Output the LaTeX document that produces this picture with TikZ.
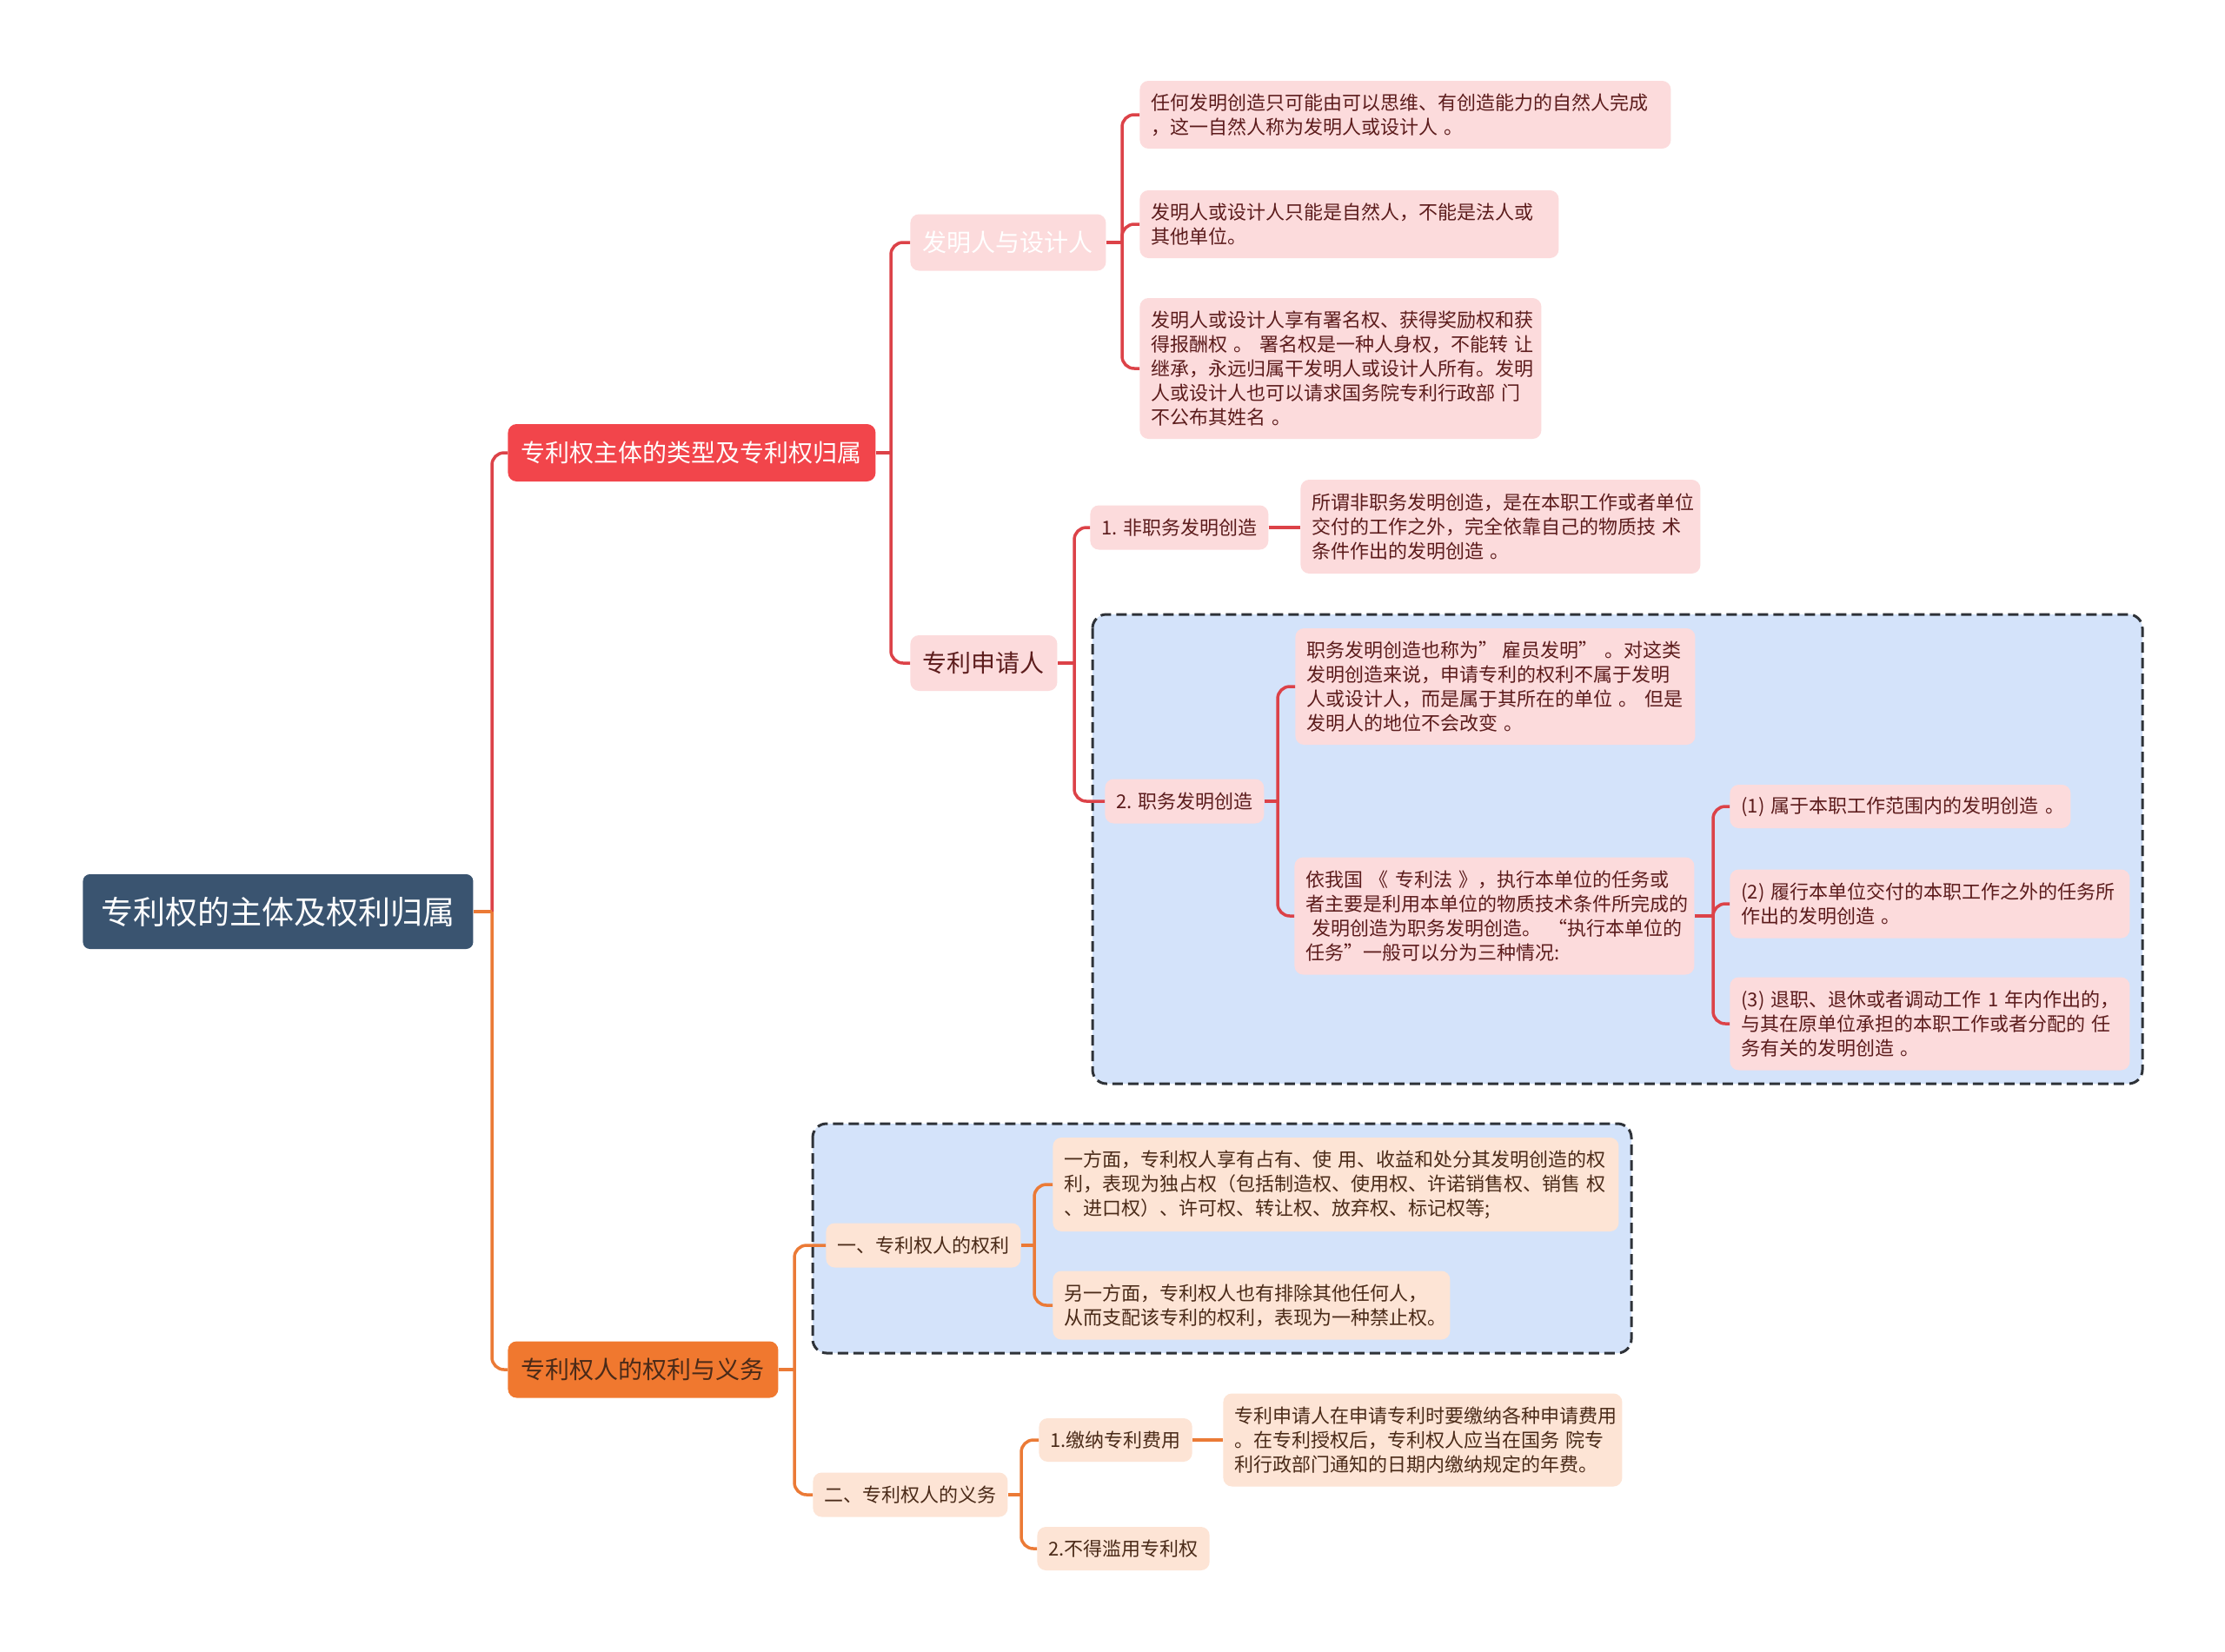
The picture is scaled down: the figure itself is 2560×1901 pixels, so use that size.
\documentclass[tikz,border=0pt]{standalone}
\usepackage{fontspec}
\setmainfont{Noto Sans CJK SC}
\usetikzlibrary{calc}
\definecolor{rootc}{HTML}{3A5470}
\definecolor{redc}{HTML}{F2454B}
\definecolor{orangec}{HTML}{F0782F}
\definecolor{rline}{HTML}{DC4248}
\definecolor{oline}{HTML}{EB7A36}
\definecolor{pinkc}{HTML}{FCDBDC}
\definecolor{peachc}{HTML}{FDE4D5}
\definecolor{maroon}{HTML}{5C1C1C}
\definecolor{brownt}{HTML}{4A2A18}
\definecolor{bluebg}{HTML}{D4E3FA}
\definecolor{dashc}{HTML}{2E3238}
\begin{document}
\begin{tikzpicture}[x=0.5pt,y=-0.5pt,
  base/.style={anchor=west, rounded corners=5pt, inner xsep=6.5pt, inner ysep=2pt},
  rootbox/.style={base, fill=rootc, text=white, font=\fontsize{18.5pt}{22pt}\selectfont, rounded corners=4pt},
  lvA/.style={base, fill=redc, text=white, font=\fontsize{14pt}{17pt}\selectfont},
  lvB/.style={base, fill=orangec, text=brownt, font=\fontsize{14pt}{17pt}\selectfont},
  lvtwo/.style={base, fill=pinkc, text=maroon, font=\fontsize{14pt}{17pt}\selectfont},
  smallr/.style={base, fill=pinkc, text=maroon, font=\fontsize{11pt}{14pt}\selectfont},
  smallo/.style={base, fill=peachc, text=brownt, font=\fontsize{11pt}{14pt}\selectfont},
  leafr/.style={base, fill=pinkc, text=maroon, align=left, font=\fontsize{11pt}{14.1pt}\selectfont},
  leafo/.style={base, fill=peachc, text=brownt, align=left, font=\fontsize{11pt}{14.1pt}\selectfont},
  rl/.style={draw=rline, line width=1.75pt, rounded corners=7pt},
  ol/.style={draw=oline, line width=1.75pt, rounded corners=7pt},
  dashbox/.style={fill=bluebg, draw=dashc, line width=1.5pt, dash pattern=on 6pt off 3pt, rounded corners=8pt}
]
\fill[white] (0,0) rectangle (2560,1901);
\useasboundingbox (0,0) rectangle (2560,1901);

% group backgrounds
\draw[dashbox] (1257,707) rectangle (2465,1247);
\draw[dashbox] (935,1293) rectangle (1877,1557);

% nodes
\node[rootbox, minimum width=224.5pt, minimum height=43pt] (root) at (95,1049) {专利权的主体及权利归属};
\node[lvA, minimum width=211.5pt, minimum height=33pt] (A) at (584,521) {专利权主体的类型及专利权归属};
\node[lvB, minimum width=155.5pt, minimum height=32.5pt] (B) at (584,1576) {专利权人的权利与义务};

\node[lvtwo, text=white, minimum width=112.5pt, minimum height=32.5pt] (A1) at (1047,279) {发明人与设计人};
\node[lvtwo, minimum width=84.5pt, minimum height=32pt] (A2) at (1047,763) {专利申请人};

\node[leafr, text width=292.5pt, minimum height=39pt] (A1a) at (1311,132) {任何发明创造只可能由可以思维、有创造能力的自然人完成\\，这一自然人称为发明人或设计人~。};
\node[leafr, text width=228pt, minimum height=39pt] (A1b) at (1311,258) {发明人或设计人只能是自然人，不能是法人或\\其他单位。};
\node[leafr, text width=218pt, minimum height=81pt] (A1c) at (1311,424) {发明人或设计人享有署名权、获得奖励权和获\\得报酬权~。~署名权是一种人身权，不能转~让\\继承，永远归属干发明人或设计人所有。发明\\人或设计人也可以请求国务院专利行政部~门\\不公布其姓名~。};

\node[smallr, minimum width=101pt, minimum height=25.5pt] (A2a) at (1254,607) {1. 非职务发明创造};
\node[leafr, text width=217pt, minimum height=54pt] (A2a1) at (1496,606) {所谓非职务发明创造，是在本职工作或者单位\\交付的工作之外，完全依靠自己的物质技~术\\条件作出的发明创造~。};
\node[smallr, minimum width=89.5pt, minimum height=25.5pt] (A2b) at (1271,922) {2. 职务发明创造};
\node[leafr, text width=217pt, minimum height=67pt] (A2b1) at (1490,790) {职务发明创造也称为"\kern-1pt~雇员发明”~。对这类\\发明创造来说，申请专利的权利不属于发明\\人或设计人，而是属于其所在的单位~。~但是\\发明人的地位不会改变~。};
\node[leafr, text width=217pt, minimum height=67.5pt] (A2b2) at (1489,1054) {依我国~《~专利法~》，执行本单位的任务或\\者主要是利用本单位的物质技术条件所完成的\\\ 发明创造为职务发明创造。~“执行本单位的\\任务”一般可以分为三种情况:};
\node[leafr, text width=183pt, minimum height=25pt] (A2b2i) at (1990,928) {(1)~属于本职工作范围内的发明创造~。};
\node[leafr, text width=217pt, minimum height=39.5pt] (A2b2ii) at (1990,1040) {(2)~履行本单位交付的本职工作之外的任务所\\作出的发明创造~。};
\node[leafr, text width=217pt, minimum height=53.5pt] (A2b2iii) at (1990,1178) {(3)~退职、退休或者调动工作~1~年内作出的，\\与其在原单位承担的本职工作或者分配的~任\\务有关的发明创造~。};

\node[smallo, minimum width=109pt, minimum height=25.5pt] (B1) at (950,1433) {一、专利权人的权利};
\node[leafo, text width=312.5pt, minimum height=54pt] (B1a) at (1211,1363) {一方面，专利权人享有占有、使~用、收益和处分其发明创造的权\\利，表现为独占权（包括制造权、使用权、许诺销售权、销售~权\\、进口权）、许可权、转让权、放弃权、标记权等;};
\node[leafo, text width=215.5pt, minimum height=39.5pt] (B1b) at (1211,1502) {另一方面，专利权人也有排除其他任何人，\\从而支配该专利的权利，表现为一种禁止权。};
\node[smallo, minimum width=108.5pt, minimum height=25.5pt] (B2) at (935,1720) {二、专利权人的义务};
\node[smallo, minimum width=84.5pt, minimum height=25pt] (B2a) at (1195,1657) {1.缴纳专利费用};
\node[leafo, text width=216.5pt, minimum height=53.5pt] (B2a1) at (1407,1657) {专利申请人在申请专利时要缴纳各种申请费用\\。在专利授权后，专利权人应当在国务~院专\\利行政部门通知的日期内缴纳规定的年费。};
\node[smallo, minimum width=97pt, minimum height=25pt] (B2b) at (1193,1782) {2.不得滥用专利权};

% bus coordinates
\coordinate (bR) at (566,0);
\coordinate (bA) at (1025,0);
\coordinate (bA1) at (1291,0);
\coordinate (bA2) at (1236,0);
\coordinate (bA2b) at (1470,0);
\coordinate (bA2b2) at (1971,0);
\coordinate (bB) at (914,0);
\coordinate (bB1) at (1190,0);
\coordinate (bB2) at (1175,0);

% connectors
\draw[rl] (root.east -| bR) |- (A.west);
\draw[ol] (root.east -| bR) |- (B.west);
\draw[ol] (root.east) -- (root.east -| bR);

\draw[rl] (A.east) -- (A.east -| bA);
\draw[rl] (A.east -| bA) |- (A1.west);
\draw[rl] (A.east -| bA) |- (A2.west);

\draw[rl] (A1.east) -- (A1.east -| bA1);
\draw[rl] (A1.east -| bA1) |- (A1a.west);
\draw[rl] (A1.east -| bA1) |- (A1b.west);
\draw[rl] (A1.east -| bA1) |- (A1c.west);

\draw[rl] (A2.east) -- (A2.east -| bA2);
\draw[rl] (A2.east -| bA2) |- (A2a.west);
\draw[rl] (A2.east -| bA2) |- (A2b.west);

\draw[rl] (A2a.east) -- (A2a.east -| A2a1.west);

\draw[rl] (A2b.east) -- (A2b.east -| bA2b);
\draw[rl] (A2b.east -| bA2b) |- (A2b1.west);
\draw[rl] (A2b.east -| bA2b) |- (A2b2.west);

\draw[rl] (A2b2.east) -- (A2b2.east -| bA2b2);
\draw[rl] (A2b2.east -| bA2b2) |- (A2b2i.west);
\draw[rl] (A2b2.east -| bA2b2) |- (A2b2ii.west);
\draw[rl] (A2b2.east -| bA2b2) |- (A2b2iii.west);

\draw[ol] (B.east) -- (B.east -| bB);
\draw[ol] (B.east -| bB) |- (B1.west);
\draw[ol] (B.east -| bB) |- (B2.west);

\draw[ol] (B1.east) -- (B1.east -| bB1);
\draw[ol] (B1.east -| bB1) |- (B1a.west);
\draw[ol] (B1.east -| bB1) |- (B1b.west);

\draw[ol] (B2.east) -- (B2.east -| bB2);
\draw[ol] (B2.east -| bB2) |- (B2a.west);
\draw[ol] (B2.east -| bB2) |- (B2b.west);

\draw[ol] (B2a.east) -- (B2a.east -| B2a1.west);
\end{tikzpicture}
\end{document}
